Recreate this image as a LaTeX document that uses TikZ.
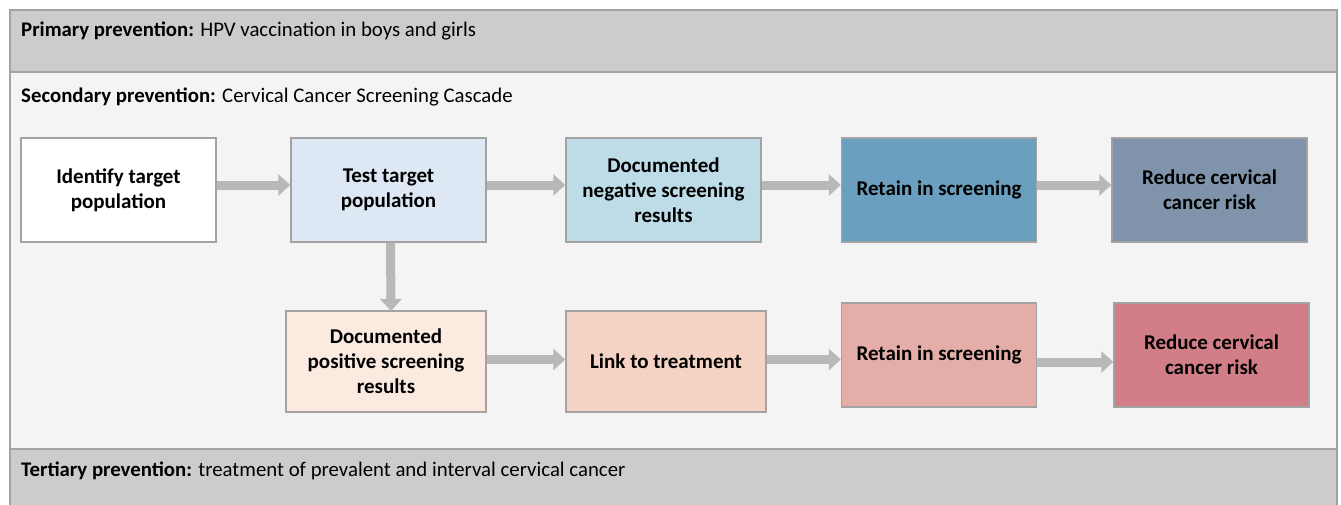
\documentclass[tikz,border=0pt]{standalone}
\usepackage{fontspec}
\setmainfont{Carlito}
\usetikzlibrary{arrows.meta}
\definecolor{bandgray}{HTML}{CCCCCC}
\definecolor{midgray}{HTML}{F4F4F4}
\definecolor{linegray}{HTML}{A3A3A3}
\definecolor{arrowgray}{HTML}{B8B8B8}
\definecolor{testblue}{HTML}{DDE8F4}
\definecolor{negblue}{HTML}{BEDCE8}
\definecolor{retblue}{HTML}{6A9FBF}
\definecolor{redblue}{HTML}{7F94AB}
\definecolor{posrose}{HTML}{FAEAE0}
\definecolor{linkrose}{HTML}{F4D3C5}
\definecolor{retrose}{HTML}{E5ADA7}
\definecolor{redrose}{HTML}{D27E88}
\begin{document}
\begin{tikzpicture}[x=1pt, y=-1pt,%
          band/.style={draw=linegray, line width=1.2pt},
          stage/.style={rectangle, draw=linegray, line width=1.4pt, minimum width=195pt,
            minimum height=104pt, align=center, font=\fontsize{21}{25}\selectfont\bfseries},
          wide/.style={stage, minimum width=200pt, minimum height=101pt},
          flow/.style={arrowgray, line width=9pt, -{Triangle[length=12pt, width=21pt]}},
          heading/.style={anchor=west, inner sep=0pt, font=\fontsize{20.8}{24}\selectfont}]
          \useasboundingbox (0,0) rectangle (1341,504);
          % the three prevention bands
          \fill[white] (0,0) rectangle (1341,504);
          \filldraw[band, fill=bandgray] (10,10) rectangle (1337,72);
          \filldraw[band, fill=midgray] (10,72) rectangle (1337,449);
          \filldraw[band, fill=bandgray] (10,449) rectangle (1337,507);
          \node[heading] (prim) at (21,31) {\textbf{Primary prevention:} HPV vaccination in boys and girls};
          \node[heading] (sec) at (21,97) {\textbf{Secondary prevention:} Cervical Cancer Screening Cascade};
          \node[heading] (tert) at (21,471) {\textbf{Tertiary prevention:} treatment of prevalent and interval cervical cancer};
          % screening cascade, top row
          \node[stage, fill=white] (ident) at (118.5,190) {Identify target\\population};
          \node[stage, fill=testblue] (test) at (388.5,190) {Test target\\population};
          \node[stage, fill=negblue] (neg) at (663.5,190) {Documented\\negative screening\\results};
          \node[stage, fill=retblue] (retneg) at (939,190) {Retain in screening};
          \node[stage, fill=redblue] (redneg) at (1209.5,190) {Reduce cervical\\cancer risk};
          % bottom row
          \node[wide, fill=posrose] (pos) at (386,361.5) {Documented\\positive screening\\results};
          \node[wide, fill=linkrose] (link) at (666,361.5) {Link to treatment};
          \node[stage, fill=retrose] (retpos) at (939,355) {Retain in screening};
          \node[stage, fill=redrose] (redpos) at (1211.5,355) {Reduce cervical\\cancer risk};
          % arrows
          \draw[flow] (ident.east) ++(0,-5) -- (test.west |- 0,185);
          \draw[flow] (test.east) ++(0,-5) -- (neg.west |- 0,185);
          \draw[flow] (neg.east) ++(0,-5) -- (retneg.west |- 0,185);
          \draw[flow] (retneg.east) ++(0,-5) -- (redneg.west |- 0,185);
          \draw[flow] (test.south) ++(2,0) -- (391,311);
          \draw[flow] (pos.east) ++(0,-2) -- (link.west |- 0,359.5);
          \draw[flow] (link.east) ++(0,-2) -- (retpos.west |- 0,359.5);
          \draw[flow] (retpos.east) ++(0,7) -- (redpos.west |- 0,362);
        \end{tikzpicture}
\end{document}
